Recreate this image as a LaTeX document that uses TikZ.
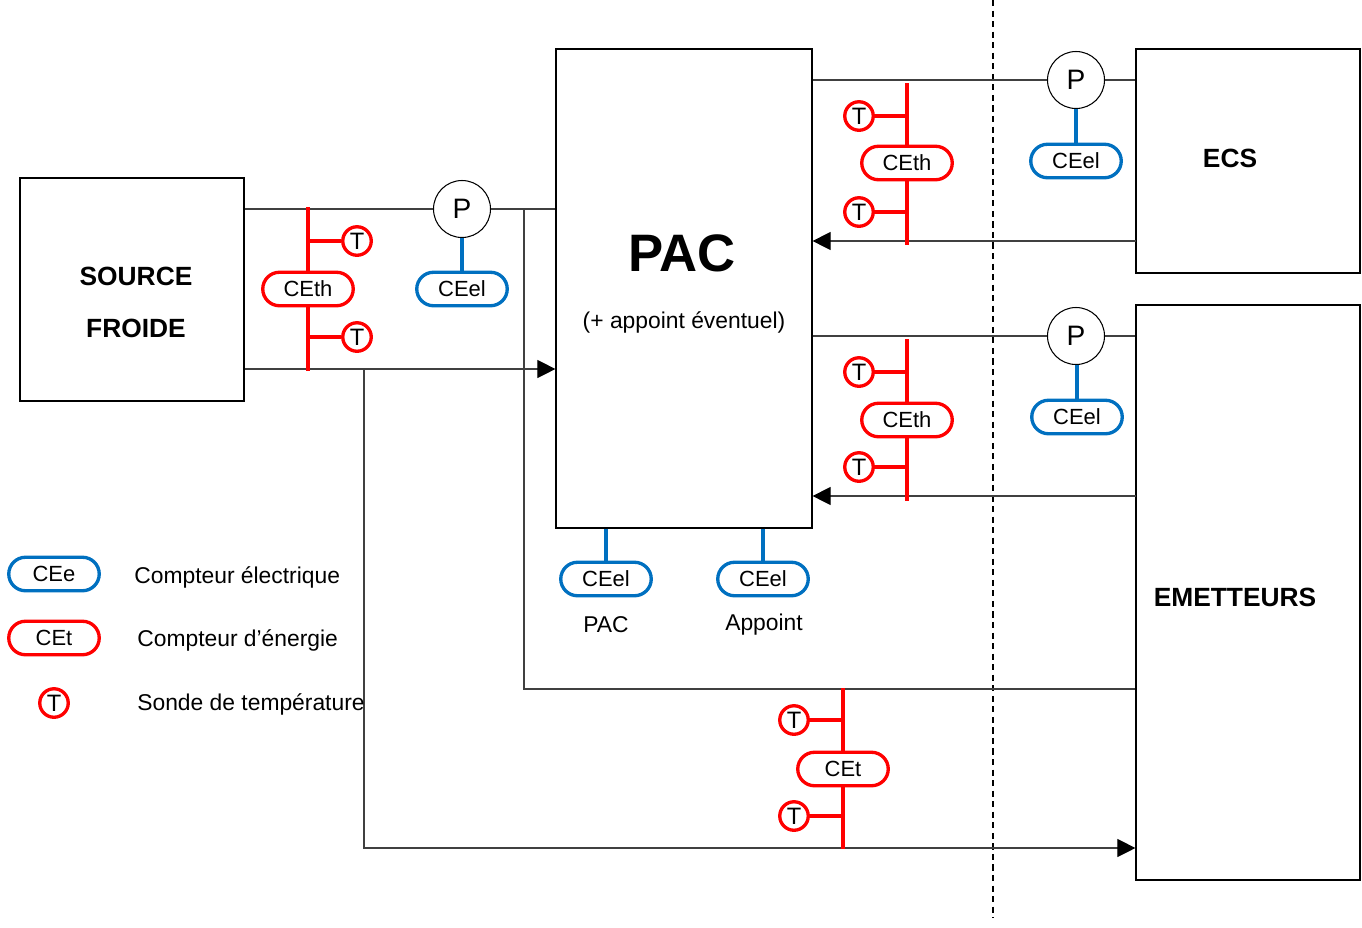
\documentclass[tikz,border=0pt]{standalone}
\usepackage{fontspec}
\setmainfont{Liberation Sans}
\usetikzlibrary{shapes.misc, arrows.meta}
\definecolor{cered}{RGB}{255,0,0}
\definecolor{ceblue}{RGB}{0,112,192}
\definecolor{pipegray}{RGB}{64,64,64}

\tikzset{
  box/.style={draw=black, line width=0.7pt, inner sep=0pt},
  pipe/.style={draw=pipegray, line width=0.6pt},
  flow/.style={pipe, -{Triangle[length=0.36cm, width=0.36cm, black]}},
  ceth/.style={rounded rectangle, draw=cered, line width=1.9pt, fill=white, minimum width=1.81cm, minimum height=0.67cm, inner sep=0pt, font=\fontsize{12.5}{15}\selectfont},
  ceel/.style={ceth, draw=ceblue},
  probe/.style={circle, draw=cered, line width=1.9pt, fill=white, minimum size=0.57cm, inner sep=0pt, font=\fontsize{13.5}{15}\selectfont},
  pump/.style={circle, draw=black, line width=0.6pt, fill=white, minimum size=1.14cm, inner sep=0pt, font=\fontsize{16}{18}\selectfont},
  redline/.style={draw=cered, line width=1.9pt},
  blueline/.style={draw=ceblue, line width=1.9pt},
  txt/.style={inner sep=0pt, font=\fontsize{13}{15}\selectfont},
  bigtxt/.style={inner sep=0pt, font=\bfseries\fontsize{15}{18}\selectfont}
}

\begin{document}
\begin{tikzpicture}[x=0.02cm, y=-0.02cm]
\useasboundingbox (0,0) rectangle (1362,927);

%the boundary
\coordinate (dtop) at (993,0);
\coordinate (dbot) at (993,918);
\draw [black, line width=1.2pt, dash pattern=on 3.5pt off 2.5pt] (dtop) -- (dbot);

%the boxes
\node [box, minimum width=4.48cm, minimum height=4.46cm] (src) at (132,289.5) {};
\node [box, minimum width=5.12cm, minimum height=9.58cm] (pac) at (684,288.5) {};
\node [box, minimum width=4.48cm, minimum height=4.48cm] (ecs) at (1248,161) {};
\node [box, minimum width=4.48cm, minimum height=11.5cm] (emet) at (1248,592.5) {};

\node [bigtxt] (srcname) at (136,276) {SOURCE};
\node [bigtxt] (srcname2) at (136,328) {FROIDE};
\node [inner sep=0pt, font=\bfseries\fontsize{30}{34}\selectfont] (pacname) at (682,253) {PAC};
\node [txt] (pacsub) at (684,322) {(+ appoint éventuel)};
\node [bigtxt] (ecsname) at (1230,158) {ECS};
\node [bigtxt] (emetname) at (1235,597) {EMETTEURS};

%the pumps
\node [pump] (p1) at (462,209) {P};
\node [pump] (p2) at (1076,80) {P};
\node [pump] (p3) at (1076,336) {P};

%source side
\coordinate (a1) at (524,209);
\coordinate (a2) at (524,689);
\coordinate (b1) at (364,369);
\coordinate (b2) at (364,848);
\draw [pipe] (src.east |- p1) -- (p1.west);
\draw [pipe] (p1.east) -- (p1 -| pac.west);
\draw [pipe] (a1) -- (a2) -- (a2 -| emet.west);
\draw [flow] (src.east |- b1) -- (b1 -| pac.west);
\draw [flow] (b1) |- (b2 -| emet.west);

%ecs side
\coordinate (c1) at (1136,241);
\draw [pipe] (pac.east |- p2) -- (p2.west);
\draw [pipe] (p2.east) -- (p2 -| ecs.west);
\draw [flow] (c1) -- (c1 -| pac.east);

%emitters side
\coordinate (d1) at (1136,496);
\draw [pipe] (pac.east |- p3) -- (p3.west);
\draw [pipe] (p3.east) -- (p3 -| emet.west);
\draw [flow] (d1) -- (d1 -| pac.east);

%energy meters
\node [ceth] (th1) at (308,289) {CEth};
\node [probe] (t1) at (357,241) {T};
\node [probe] (t2) at (357,337) {T};
\coordinate (th1top) at (308,207);
\coordinate (th1bot) at (308,371);
\draw [redline] (th1top) -- (th1.north);
\draw [redline] (th1.south) -- (th1bot);
\draw [redline] (t1.west) -- (t1 -| th1);
\draw [redline] (t2.west) -- (t2 -| th1);

\node [ceth] (th2) at (907,163) {CEth};
\node [probe] (t3) at (859,116) {T};
\node [probe] (t4) at (859,212) {T};
\coordinate (th2top) at (907,83);
\coordinate (th2bot) at (907,245);
\draw [redline] (th2top) -- (th2.north);
\draw [redline] (th2.south) -- (th2bot);
\draw [redline] (t3.east) -- (t3 -| th2);
\draw [redline] (t4.east) -- (t4 -| th2);

\node [ceth] (th3) at (907,420) {CEth};
\node [probe] (t5) at (859,372) {T};
\node [probe] (t6) at (859,467) {T};
\coordinate (th3top) at (907,339);
\coordinate (th3bot) at (907,501);
\draw [redline] (th3top) -- (th3.north);
\draw [redline] (th3.south) -- (th3bot);
\draw [redline] (t5.east) -- (t5 -| th3);
\draw [redline] (t6.east) -- (t6 -| th3);

\node [ceth] (th4) at (843,769) {CEt\hspace{0.25cm}};
\node [probe] (t7) at (794,720) {T};
\node [probe] (t8) at (794,816) {T};
\coordinate (th4top) at (843,688);
\coordinate (th4bot) at (843,849);
\draw [redline] (th4top) -- (th4.north);
\draw [redline] (th4.south) -- (th4bot);
\draw [redline] (t7.east) -- (t7 -| th4);
\draw [redline] (t8.east) -- (t8 -| th4);

%electric meters
\node [ceel] (el1) at (462,289) {CEel};
\draw [blueline] (p1.south) -- (el1.north);
\node [ceel] (el2) at (1076,161) {CEel};
\draw [blueline] (p2.south) -- (el2.north);
\node [ceel] (el3) at (1077,417) {CEel};
\draw [blueline] (p3.south -| el3) -- (el3.north);
\node [ceel] (el4) at (606,579) {CEel};
\draw [blueline] (el4 |- pac.south) -- (el4.north);
\node [ceel] (el5) at (763,579) {CEel};
\draw [blueline] (el5 |- pac.south) -- (el5.north);
\node [txt] (el4name) at (606,625) {PAC};
\node [txt] (el5name) at (764,625) {Appoint};

%the legend
\node [ceel] (lg1) at (54,574) {CEe\hspace{0.1cm}};
\node [ceth] (lg2) at (54,638) {CEt\hspace{0.2cm}};
\node [probe] (lg3) at (54,703) {T};
\node [txt, anchor=west] (lg1txt) at (134,577) {Compteur électrique};
\node [txt, anchor=west] (lg2txt) at (137,640) {Compteur d’énergie};
\node [txt, anchor=west] (lg3txt) at (137,704) {Sonde de température};
\end{tikzpicture}
\end{document}
